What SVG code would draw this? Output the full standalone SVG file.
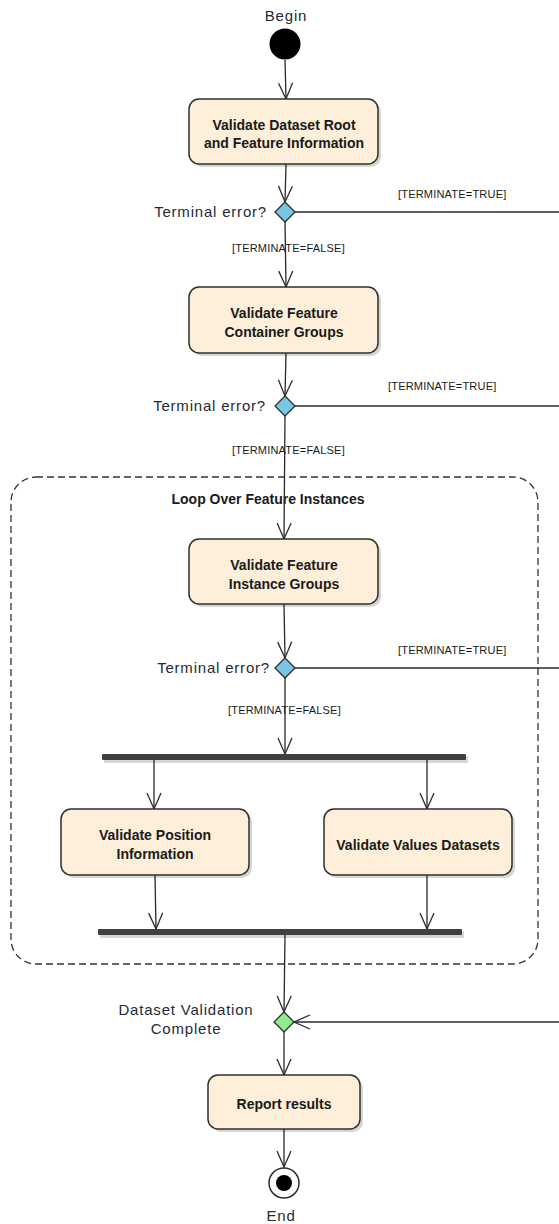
<svg xmlns="http://www.w3.org/2000/svg" width="559" height="1224" viewBox="0 0 559 1224">
<style>
.bg{fill:#ffffff}
.act{fill:#fdefd9;stroke:#2f2f2f;stroke-width:1.5}
.shadow{fill:#000000;opacity:0.16}
.dec{fill:#79c6e4;stroke:#2f2f2f;stroke-width:1.3}
.merge{fill:#8eeb8e;stroke:#2f2f2f;stroke-width:1.3}
.bar{fill:#3f3f3f}
.conn{fill:none;stroke:#2a2a2a;stroke-width:1.3}
.t{font-family:"Liberation Sans",Arial,sans-serif;font-size:14px;font-weight:bold;fill:#1a1a1a;text-anchor:middle}
.lbl{font-family:"Liberation Sans",Arial,sans-serif;font-size:15px;letter-spacing:0.8px;fill:#1f2a38}
.g{font-family:"Liberation Sans",Arial,sans-serif;font-size:11px;letter-spacing:0.2px;fill:#1a1a1a}
.loop{fill:none;stroke:#333333;stroke-width:1.3;stroke-dasharray:7,4}
</style>
<defs>
<marker id="arr" markerUnits="userSpaceOnUse" markerWidth="20" markerHeight="20" viewBox="0 0 20 20" refX="18" refY="10" orient="auto">
<path d="M2,3 L18,10 L2,17" fill="none" stroke="#2a2a2a" stroke-width="1.3"/>
</marker>
</defs>
<rect class="bg" x="0" y="0" width="559" height="1224"/>

<g id="loop">
<rect class="loop" x="11" y="477" width="527" height="487" rx="25" ry="25"/>
<text class="t" x="268" y="504">Loop Over Feature Instances</text>
</g>

<g id="connectors">
<line class="conn" x1="285" y1="60" x2="286" y2="99" marker-end="url(#arr)"/>
<line class="conn" x1="286" y1="164" x2="285" y2="202" marker-end="url(#arr)"/>
<line class="conn" x1="295" y1="212" x2="559" y2="212"/>
<line class="conn" x1="285" y1="222" x2="286" y2="287" marker-end="url(#arr)"/>
<line class="conn" x1="286" y1="353" x2="285" y2="396" marker-end="url(#arr)"/>
<line class="conn" x1="295" y1="406" x2="559" y2="406"/>
<line class="conn" x1="285" y1="416" x2="284" y2="539" marker-end="url(#arr)"/>
<line class="conn" x1="284" y1="604" x2="285" y2="658" marker-end="url(#arr)"/>
<line class="conn" x1="295" y1="668" x2="559" y2="668"/>
<line class="conn" x1="285" y1="678" x2="285" y2="754" marker-end="url(#arr)"/>
<line class="conn" x1="154" y1="760" x2="154" y2="809" marker-end="url(#arr)"/>
<line class="conn" x1="427" y1="760" x2="427" y2="809" marker-end="url(#arr)"/>
<line class="conn" x1="155" y1="875" x2="156" y2="929" marker-end="url(#arr)"/>
<line class="conn" x1="427" y1="875" x2="427" y2="929" marker-end="url(#arr)"/>
<line class="conn" x1="285" y1="935" x2="284" y2="1012" marker-end="url(#arr)"/>
<line class="conn" x1="559" y1="1022" x2="294" y2="1022" marker-end="url(#arr)"/>
<line class="conn" x1="284" y1="1032" x2="284" y2="1075" marker-end="url(#arr)"/>
<line class="conn" x1="284" y1="1129" x2="284" y2="1167" marker-end="url(#arr)"/>
<text class="g" x="398" y="198">[TERMINATE=TRUE]</text>
<text class="g" x="232" y="252">[TERMINATE=FALSE]</text>
<text class="g" x="388" y="390">[TERMINATE=TRUE]</text>
<text class="g" x="232" y="454">[TERMINATE=FALSE]</text>
<text class="g" x="398" y="654">[TERMINATE=TRUE]</text>
<text class="g" x="228" y="714">[TERMINATE=FALSE]</text>
</g>

<g id="start">
<text class="lbl" x="286" y="21" text-anchor="middle">Begin</text>
<circle cx="285" cy="44" r="15.5" fill="#000000"/>
</g>

<g id="n1">
<rect class="shadow" x="192" y="102" width="189" height="65" rx="10"/>
<rect class="act" x="189" y="99" width="189" height="65" rx="10"/>
<text class="t" x="284" y="130">Validate Dataset Root</text>
<text class="t" x="284" y="148">and Feature Information</text>
</g>

<g id="d1">
<polygon class="dec" points="285,202 295,212 285,222 275,212"/>
<text class="lbl" x="267" y="217" text-anchor="end">Terminal error?</text>
</g>

<g id="n2">
<rect class="shadow" x="192" y="290" width="189" height="66" rx="10"/>
<rect class="act" x="189" y="287" width="189" height="66" rx="10"/>
<text class="t" x="284" y="318">Validate Feature</text>
<text class="t" x="284" y="337">Container Groups</text>
</g>

<g id="d2">
<polygon class="dec" points="285,396 295,406 285,416 275,406"/>
<text class="lbl" x="266" y="411" text-anchor="end">Terminal error?</text>
</g>

<g id="n3">
<rect class="shadow" x="192" y="542" width="189" height="65" rx="10"/>
<rect class="act" x="189" y="539" width="189" height="65" rx="10"/>
<text class="t" x="284" y="570">Validate Feature</text>
<text class="t" x="284" y="589">Instance Groups</text>
</g>

<g id="d3">
<polygon class="dec" points="285,658 295,668 285,678 275,668"/>
<text class="lbl" x="270" y="673" text-anchor="end">Terminal error?</text>
</g>

<g id="fork">
<rect class="shadow" x="104" y="756" width="364" height="7" rx="1"/>
<rect class="bar" x="102" y="754" width="364" height="6" rx="1"/>
</g>

<g id="n4">
<rect class="shadow" x="64" y="812" width="188" height="66" rx="10"/>
<rect class="act" x="61" y="809" width="188" height="66" rx="10"/>
<text class="t" x="155" y="840">Validate Position</text>
<text class="t" x="155" y="859">Information</text>
</g>

<g id="n5">
<rect class="shadow" x="327" y="812" width="188" height="66" rx="10"/>
<rect class="act" x="324" y="809" width="188" height="66" rx="10"/>
<text class="t" x="418" y="850">Validate Values Datasets</text>
</g>

<g id="join">
<rect class="shadow" x="100" y="931" width="364" height="7" rx="1"/>
<rect class="bar" x="98" y="929" width="364" height="6" rx="1"/>
</g>

<g id="merge">
<polygon class="merge" points="284,1012 294,1022 284,1032 274,1022"/>
<text class="lbl" x="186" y="1015" text-anchor="middle">Dataset Validation</text>
<text class="lbl" x="186" y="1034" text-anchor="middle">Complete</text>
</g>

<g id="n6">
<rect class="shadow" x="211" y="1078" width="152" height="54" rx="10"/>
<rect class="act" x="208" y="1075" width="152" height="54" rx="10"/>
<text class="t" x="284" y="1109">Report results</text>
</g>

<g id="end">
<circle cx="284" cy="1183" r="15" fill="#ffffff" stroke="#2f2f2f" stroke-width="1.5"/>
<circle cx="284" cy="1183" r="8" fill="#000000"/>
<text class="lbl" x="281" y="1221" text-anchor="middle">End</text>
</g>
</svg>
